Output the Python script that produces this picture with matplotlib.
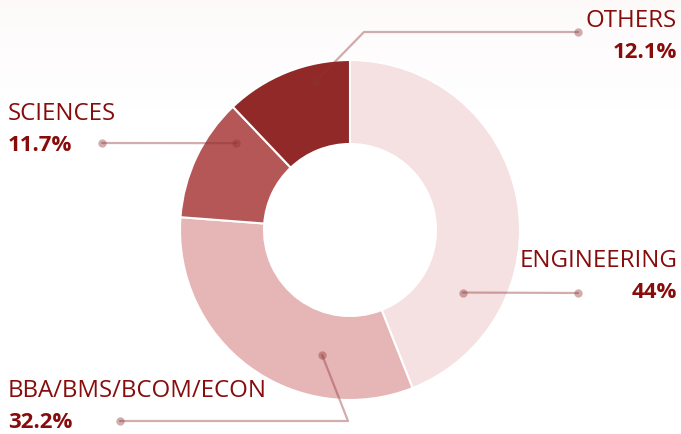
import matplotlib.pyplot as plt
import numpy as np

categories = ['ENGINEERING', 'BBA/BMS/BCOM/ECON', 'SCIENCES', 'OTHERS']
shares = [44, 32.2, 11.7, 12.1]
share_labels = ['44%', '32.2%', '11.7%', '12.1%']

colors = ['#f5e1e2', '#e6b5b6', '#b55757', '#922929']
text_color = '#870c0c'
line_color = (0.55, 0.2, 0.2, 0.4)

W, H = 681, 434
cx, cy = 350, H - 230
R = 170

fig = plt.figure(figsize=(W / 100, H / 100), dpi=100)
ax = fig.add_axes([0, 0, 1, 1])

# faint tint at the top of the background
grad = np.linspace(0.6, 0, 100).reshape(-1, 1)
tint = np.ones((100, 1, 4))
tint[..., 0] = 0.99
tint[..., 1] = 0.965
tint[..., 2] = 0.965
tint[..., 3] = grad
ax.imshow(tint, extent=(0, W, H - 110, H), aspect='auto', zorder=0)

ax.pie(shares, colors=colors, startangle=90, counterclock=False,
       center=(cx, cy), radius=R,
       wedgeprops=dict(width=84, edgecolor='white', linewidth=1.5))

ax.set_xlim(0, W)
ax.set_ylim(0, H)
ax.axis('off')

# leader lines: dot inside wedge (angle, radius) -> path -> end dot
# given in pixel coordinates of the picture (y down)
leaders = {
    'ENGINEERING': [(-29, 129), [(578, 293)]],
    'BBA/BMS/BCOM/ECON': [(-102.6, 128), [(348, 421), (120, 421)]],
    'SCIENCES': [(142.6, 143), [(102, 143)]],
    'OTHERS': [(103.3, 152), [(364, 32), (578, 32)]],
}

for name in categories:
    (ang, r), path = leaders[name]
    x0 = cx + r * np.cos(np.radians(ang))
    y0 = cy + r * np.sin(np.radians(ang))
    xs = [x0] + [p[0] for p in path]
    ys = [y0] + [H - p[1] for p in path]
    ax.plot(xs, ys, color=line_color, lw=1.6, solid_capstyle='round', zorder=5)
    ax.plot([xs[0], xs[-1]], [ys[0], ys[-1]], 'o', ms=6, color=line_color,
            mec='none', zorder=6)

# label text: (x, baseline y of name, alignment)
label_pos = {
    'ENGINEERING': (677, 267, 'right'),
    'BBA/BMS/BCOM/ECON': (8, 397, 'left'),
    'SCIENCES': (8, 120, 'left'),
    'OTHERS': (677, 27, 'right'),
}

for name, val in zip(categories, share_labels):
    x, y, ha = label_pos[name]
    ax.text(x, H - y, name, ha=ha, va='baseline', fontsize=17.3,
            family='Open Sans', color=text_color)
    ax.text(x, H - y - 31, val, ha=ha, va='baseline', fontsize=16,
            family='Open Sans', fontweight='bold', color=text_color)

fig.savefig('out.png', dpi=100)
